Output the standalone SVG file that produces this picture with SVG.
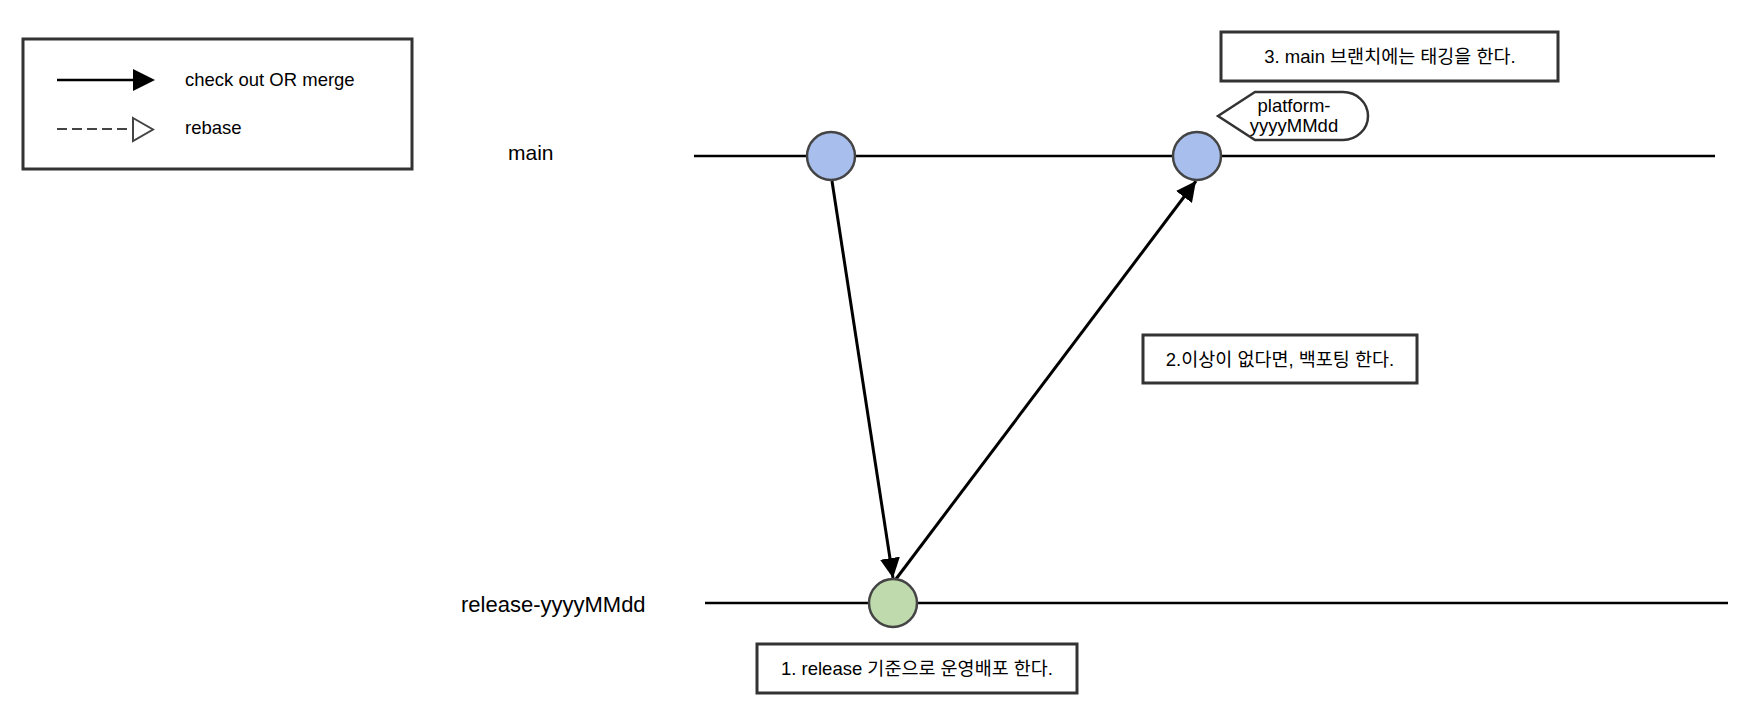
<svg xmlns="http://www.w3.org/2000/svg" width="1750" height="714" viewBox="0 0 1750 714">
<style>
text{font-family:"Liberation Sans","Noto Sans CJK KR",Arial,sans-serif;fill:#000}
.box{fill:#fff;stroke:#333;stroke-width:3}
.branch{stroke:#000;stroke-width:2.5;fill:none}
.blue{fill:#a8bfee;stroke:#444;stroke-width:2.5}
.green{fill:#bfdbad;stroke:#444;stroke-width:2.5}
.arrow{stroke:#000;stroke-width:3;fill:none;marker-end:url(#ah)}
.lbl{font-size:21px}
.note{font-size:18.5px;text-anchor:middle}
.leg{font-size:18.5px}
</style>
<defs>
<marker id="ah" markerUnits="userSpaceOnUse" markerWidth="22" markerHeight="22" refX="20" refY="10" orient="auto">
<path d="M0,0 L20,10 L0,20 Z" fill="#000"/>
</marker>
</defs>
<rect width="1750" height="714" fill="#fff"/>
<g id="legend">
<rect class="box" x="23" y="39" width="389" height="130"/>
<line x1="57" y1="80" x2="135" y2="80" stroke="#000" stroke-width="2.5"/>
<polygon points="133,69 155,80 133,91" fill="#000"/>
<text class="leg" x="185" y="86">check out OR merge</text>
<line x1="57" y1="129" x2="133" y2="129" stroke="#444" stroke-width="2" stroke-dasharray="10,5"/>
<polygon points="133,118 153,129.5 133,141" fill="#fff" stroke="#444" stroke-width="2"/>
<text class="leg" x="185" y="134">rebase</text>
</g>
<g id="branches">
<line class="branch" x1="694" y1="156" x2="1715" y2="156"/>
<line class="branch" x1="705" y1="603" x2="1728" y2="603"/>
</g>
<g id="label-main"><text class="lbl" x="508" y="160">main</text></g>
<g id="label-release"><text class="lbl" x="461" y="612" style="font-size:22px">release-yyyyMMdd</text></g>
<g id="connectors">
<line class="arrow" x1="832" y1="181" x2="893" y2="578"/>
<line class="arrow" x1="896" y1="579" x2="1196" y2="181"/>
</g>
<g id="commit-main-1"><circle class="blue" cx="831" cy="156" r="24"/></g>
<g id="commit-main-2"><circle class="blue" cx="1197" cy="156" r="24"/></g>
<g id="commit-release"><circle class="green" cx="893" cy="603" r="24"/></g>
<g id="tag">
<path d="M1218,116 L1255,92 L1343,92 A25,24 0 0 1 1343,140 L1255,140 Z" fill="#fff" stroke="#333" stroke-width="2.5"/>
<text class="leg" x="1294" y="112" text-anchor="middle">platform-</text>
<text class="leg" x="1294" y="132" text-anchor="middle">yyyyMMdd</text>
</g>
<g id="note-3">
<rect class="box" x="1221" y="32" width="337" height="49"/>
<text class="note" x="1390" y="63">3. main 브랜치에는 태깅을 한다.</text>
</g>
<g id="note-2">
<rect class="box" x="1143" y="335" width="274" height="48"/>
<text class="note" x="1280" y="366">2.이상이 없다면, 백포팅 한다.</text>
</g>
<g id="note-1">
<rect class="box" x="757" y="644" width="320" height="49"/>
<text class="note" x="917" y="675">1. release 기준으로 운영배포 한다.</text>
</g>
</svg>
